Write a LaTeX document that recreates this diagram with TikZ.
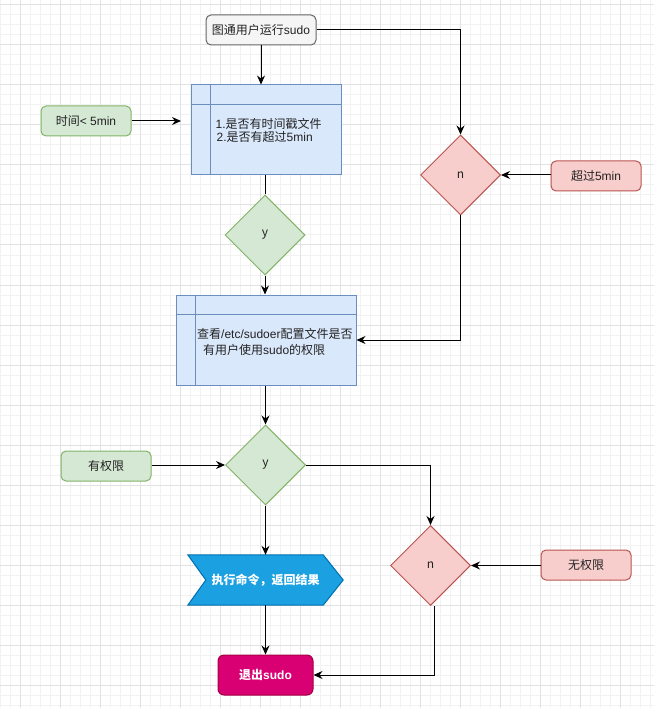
\documentclass[tikz,border=0pt]{standalone}
\usepackage{fontspec}
\setmainfont{Noto Sans CJK SC}
\newfontfamily\lat{Liberation Sans}
\usetikzlibrary{shapes.geometric,arrows.meta,calc,backgrounds}
\definecolor{gminor}{HTML}{F2F2F2}
\definecolor{gmajor}{HTML}{E2E2E2}
\definecolor{txt}{HTML}{222222}
\definecolor{greyfill}{HTML}{F5F5F5}
\definecolor{greyline}{HTML}{666666}
\definecolor{bluefill}{HTML}{DAE8FC}
\definecolor{blueline}{HTML}{6C8EBF}
\definecolor{greenfill}{HTML}{D5E8D4}
\definecolor{greenline}{HTML}{82B366}
\definecolor{redfill}{HTML}{F8CECC}
\definecolor{redline}{HTML}{B85450}
\definecolor{stepfill}{HTML}{1BA1E2}
\definecolor{stepline}{HTML}{006EAF}
\definecolor{exitfill}{HTML}{D80073}
\definecolor{exitline}{HTML}{A50040}
\newcommand{\fs}{\fontsize{12pt}{14pt}\selectfont}
\tikzset{
  base/.style={draw, line width=1pt, font=\fs, text=txt, inner sep=0pt},
  rbox/.style={base, rounded corners=5pt, minimum width=90pt, minimum height=30pt},
  greybox/.style={rbox, fill=greyfill, draw=greyline, minimum width=110pt},
  greenbox/.style={rbox, fill=greenfill, draw=greenline},
  redbox/.style={rbox, fill=redfill, draw=redline},
  storebox/.style={base, fill=bluefill, draw=blueline},
  storeline/.style={draw=blueline, line width=1pt},
  dia/.style={base, shape=diamond, aspect=1, minimum width=80pt, minimum height=80pt},
  greendia/.style={dia, fill=greenfill, draw=greenline},
  reddia/.style={dia, fill=redfill, draw=redline},
  boxtext/.style={anchor=west, font=\fs, text=txt, inner sep=0pt},
  arr/.style={-{Stealth[length=9pt,width=8pt,inset=3pt]}, line width=1pt, black},
  plain/.style={line width=1pt, black},
}
\begin{document}
\begin{tikzpicture}[x=1pt,y=-1pt]
\useasboundingbox (0,0) rectangle (654,708);
\begin{scope}[on background layer]
  \fill[white] (0,0) rectangle (654,708);
  \foreach \x in {0,10,...,650} \draw[gminor, line width=1pt] (\x,0) -- (\x,708);
  \foreach \y in {5,15,...,705} \draw[gminor, line width=1pt] (0,\y) -- (654,\y);
  \foreach \x in {20,60,...,640} \draw[gmajor, line width=1pt] (\x,0) -- (\x,708);
  \foreach \y in {5,45,...,685} \draw[gmajor, line width=1pt] (0,\y) -- (654,\y);
\end{scope}

% nodes
\node[greybox] (start) at (261,30) {图通用户运行{\lat sudo}};
\node[storebox, minimum width=150pt, minimum height=90pt] (b1) at (266,130) {};
\draw[storeline] ($(b1.north west)+(20,0)$) -- ($(b1.south west)+(20,0)$);
\draw[storeline] ($(b1.north west)+(0,20.5)$) -- ($(b1.north east)+(0,20.5)$);
\node[boxtext] (b1t1) at (215.5,124) {{\lat 1.}是否有时间戳文件};
\node[boxtext] (b1t2) at (216.5,137) {{\lat 2.}是否有超过{\lat 5min}};

\node[greenbox] (lt5) at (86,121) {时间{\lat < 5min}};
\coordinate (lt5end) at (181,121);

\node[greendia] (y1) at (265,235) {y};

\node[storebox, minimum width=180pt, minimum height=90pt] (b2) at (266,340) {};
\draw[storeline] ($(b2.north west)+(20,0)$) -- ($(b2.south west)+(20,0)$);
\draw[storeline] ($(b2.north west)+(0,20)$) -- ($(b2.north east)+(0,20)$);
\node[boxtext] (b2t1) at (197,333.5) {查看{\lat /etc/sudoer}配置文件是否};
\node[boxtext] (b2t2) at (203,349.5) {有用户使用{\lat sudo}的权限};

\node[reddia] (n1) at (460.5,175) {n};
\node[redbox] (gt5) at (596,176) {超过{\lat 5min}};

\node[greendia] (y2) at (265.5,465) {y};
\node[greenbox] (hasp) at (106,466) {有权限};

\node[reddia] (n2) at (430.5,565.5) {n};
\node[redbox] (nop) at (586,565) {无权限};

\node[font=\fs\bfseries, text=white, minimum width=155pt, minimum height=50pt, inner sep=0pt] (st) at (265.5,580) {执行命令，返回结果};
\begin{scope}[on background layer]
  \filldraw[fill=stepfill, draw=stepline, line width=1pt]
    (st.north west) -- ($(st.north east)+(-20,0)$) -- (st.east) --
    ($(st.south east)+(-20,0)$) -- (st.south west) -- ($(st.west)+(18,0)$) -- cycle;
\end{scope}

\node[base, rounded corners=6pt, fill=exitfill, draw=exitline, text=white, font=\fs\bfseries, minimum width=95pt, minimum height=40pt] (exit) at (265.5,675) {退出{\lat sudo}};

% connectors
\draw[arr] (start.east) -| (n1.north);
\draw[arr] (start.south) -- (start.south |- b1.north);
\draw[arr] (lt5.east) -- (lt5end);
\draw[plain] (y1.north |- b1.south) -- (y1.north);
\draw[arr] (y1.south) -- (y1.south |- b2.north);
\draw[arr] (gt5.west |- n1.east) -- (n1.east);
\draw[arr] (n1.south) |- (b2.east);
\draw[arr] (y2.south |- b2.south) -- (y2.north);
\draw[arr] (hasp.east |- y2.west) -- (y2.west);
\draw[arr] (y2.east) -| (n2.north);
\draw[arr] (nop.west |- n2.east) -- (n2.east);
\draw[arr] (y2.south) -- (st.north);
\draw[arr] (st.south) -- (exit.north);
\draw[arr] ($(n2.south)+(4,0)$) |- (exit.east);
\end{tikzpicture}
\end{document}
